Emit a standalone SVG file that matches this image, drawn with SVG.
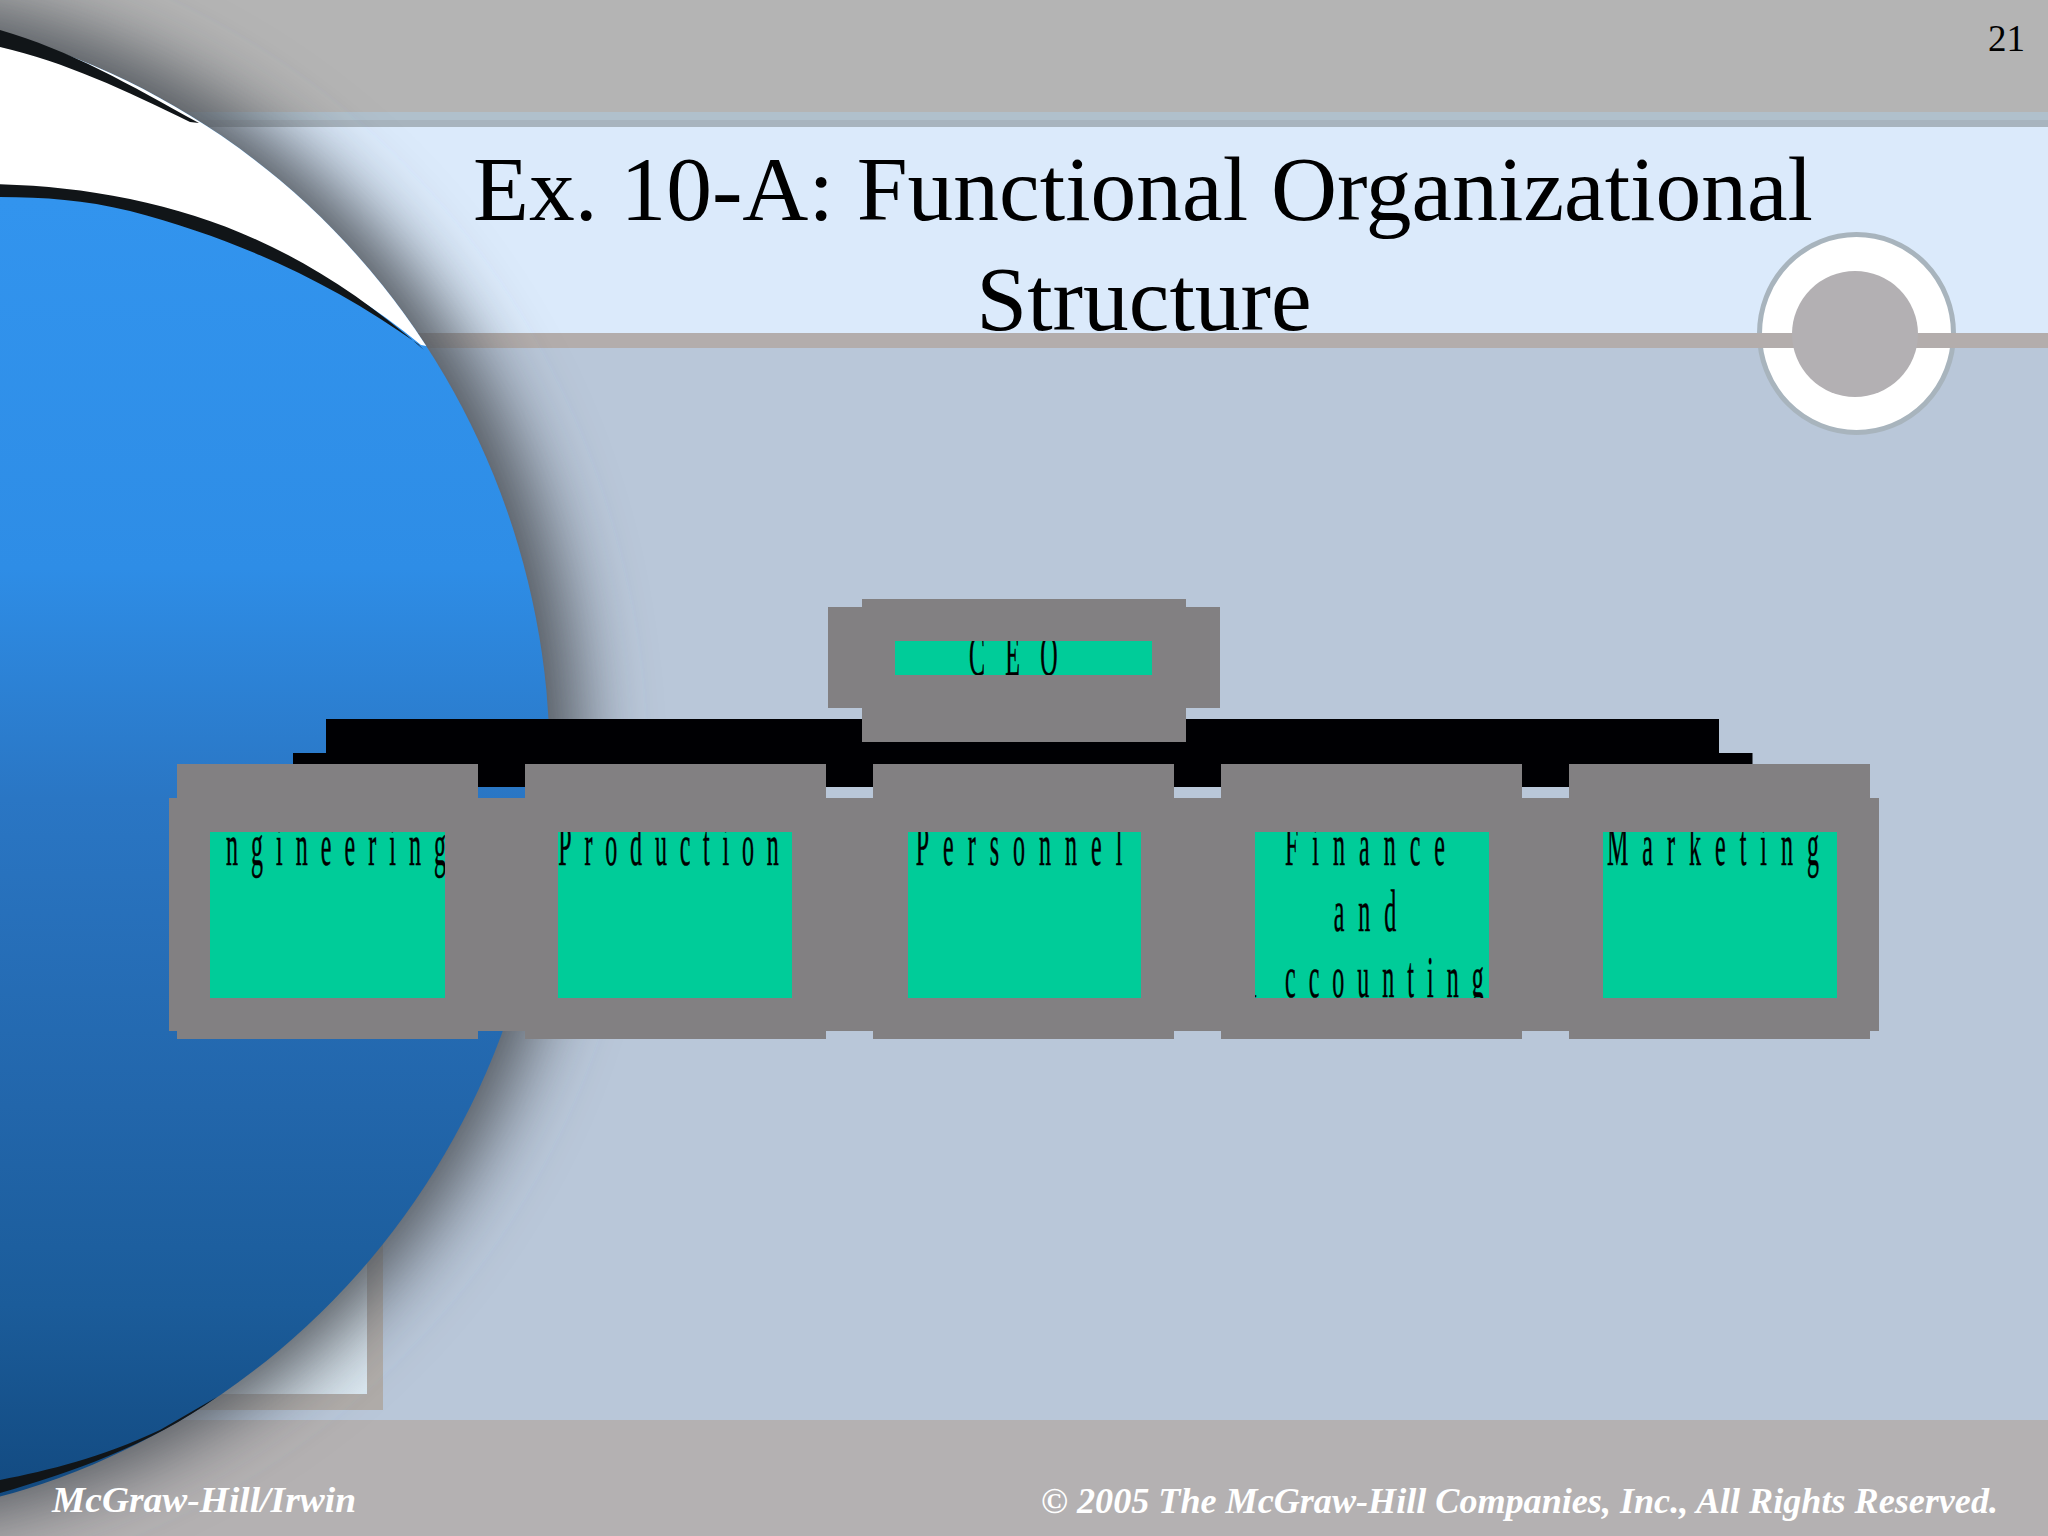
<svg xmlns="http://www.w3.org/2000/svg" width="2048" height="1536" viewBox="0 0 2048 1536">
<style>
.box{fill:#828082}
.green{fill:#00cc99}
.bus{fill:#000003}
.lbl{font-family:"Liberation Serif","Times New Roman",serif;font-size:60px;fill:#000;stroke:#000;stroke-width:.5px;text-anchor:middle}
.title{font-family:"Liberation Serif","Times New Roman",serif;font-size:91.500px;fill:#000;text-anchor:middle}
.foot{font-family:"Liberation Serif","Times New Roman",serif;font-size:35px;font-style:italic;font-weight:bold;fill:#fff}
</style>
<defs>
<linearGradient id="blue" x1="0" y1="0" x2="0" y2="1536" gradientUnits="userSpaceOnUse">
<stop offset="0.13" stop-color="#3294ee"/><stop offset="0.37" stop-color="#2e8de6"/><stop offset="0.52" stop-color="#2a76c4"/><stop offset="0.72" stop-color="#2266ab"/><stop offset="0.85" stop-color="#1b5c9a"/><stop offset="0.98" stop-color="#12497f"/>
</linearGradient>
<linearGradient id="panel" x1="0" y1="0" x2="1" y2="1"><stop offset="0.6" stop-color="#c5ccd4"/><stop offset="1" stop-color="#dceaf3"/></linearGradient>
<filter id="blur" x="-30%" y="-30%" width="160%" height="160%"><feGaussianBlur stdDeviation="36"/></filter>
<clipPath id="sph"><ellipse cx="-190" cy="765" rx="740" ry="757"/></clipPath>
<clipPath id="cCeo"><rect x="895" y="641" width="257" height="34"/></clipPath>
<clipPath id="c1"><rect x="210" y="832" width="235" height="166"/></clipPath>
<clipPath id="c2"><rect x="558" y="832" width="234" height="166"/></clipPath>
<clipPath id="c3"><rect x="908" y="832" width="233" height="166"/></clipPath>
<clipPath id="c4"><rect x="1255" y="832" width="234" height="166"/></clipPath>
<clipPath id="c5"><rect x="1603" y="832" width="234" height="166"/></clipPath>
</defs>

<g id="background">
<rect width="2048" height="1536" fill="#b9c7d9"/>
<rect y="0" width="2048" height="112" fill="#b4b4b4"/>
<rect y="112" width="2048" height="8" fill="#b0c0cc"/>
<rect y="120" width="2048" height="7" fill="#a8b4be"/>
<rect y="127" width="2048" height="206" fill="#dbeafb"/>
<rect x="100" y="1100" width="275" height="302" fill="url(#panel)" stroke="#b0aca9" stroke-width="16"/>
<rect y="1420" width="2048" height="116" fill="#b4b1b2"/>
<ellipse cx="1856.500" cy="333.500" rx="97" ry="99" fill="#fff" stroke="#a8b4bd" stroke-width="5"/>
<rect y="333" width="2048" height="15" fill="#b3adac"/>
<circle cx="1855" cy="334" r="63" fill="#b3b0b3"/>
</g>

<g id="sphere-art">
<ellipse cx="-165" cy="760" rx="745" ry="768" fill="#50555c" filter="url(#blur)"/>
<ellipse cx="-190" cy="765" rx="740" ry="757" fill="url(#blue)"/>
<g clip-path="url(#sph)">
<path d="M-10 0H500V360L421 345C330 270 230 225 120 200C70 190 30 187 -10 187Z" fill="#fff"/>
<path d="M-10 184C40 185 80 189 130 199C240 222 330 268 424 350L418 344C330 282 240 240 130 211C80 199 40 197 -10 197Z" fill="#111518"/>
</g>
<path d="M0 30C70 50 130 85 199 123L190 122C125 90 65 62 0 47Z" fill="#111518"/>
<path d="M0 1493C70 1473 150 1445 217 1397L160 1430C100 1458 50 1470 0 1480Z" fill="#111518"/>
</g>

<g id="connectors">
<rect class="bus" x="326" y="719" width="1393" height="34"/>
<rect class="bus" x="293" y="753" width="1459.500" height="12"/>
<rect class="bus" x="478" y="764" width="47" height="23"/>
<rect class="bus" x="826" y="764" width="47" height="23"/>
<rect class="bus" x="1174" y="764" width="47" height="23"/>
<rect class="bus" x="1522" y="764" width="47" height="23"/>
</g>

<g id="node-engineering">
<rect class="box" x="177" y="764" width="301" height="275"/>
<rect class="box" x="169" y="798" width="356" height="233"/>
<rect class="green" x="210" y="832" width="235" height="166"/>
<g clip-path="url(#c1)"><text class="lbl" transform="translate(226 865) scale(.4 1)" style="letter-spacing:32.600px;text-anchor:start"><tspan x="-85">E</tspan><tspan x="0">ngineering</tspan></text></g>
</g>
<g id="node-production">
<rect class="box" x="525" y="764" width="301" height="275"/>
<rect class="box" x="517" y="798" width="356" height="233"/>
<rect class="green" x="558" y="832" width="234" height="166"/>
<g clip-path="url(#c2)"><text class="lbl" transform="translate(675 865) scale(.4 1)" style="letter-spacing:32px">Production</text></g>
</g>
<g id="node-personnel">
<rect class="box" x="873" y="764" width="301" height="275"/>
<rect class="box" x="865" y="798" width="356" height="233"/>
<rect class="green" x="908" y="832" width="233" height="166"/>
<g clip-path="url(#c3)"><text class="lbl" transform="translate(1026 865) scale(.4 1)" style="letter-spacing:35px">Personnel</text></g>
</g>
<g id="node-finance">
<rect class="box" x="1221" y="764" width="301" height="275"/>
<rect class="box" x="1213" y="798" width="356" height="233"/>
<rect class="green" x="1255" y="832" width="234" height="166"/>
<g clip-path="url(#c4)">
<text class="lbl" transform="translate(1372 865) scale(.4 1)" style="letter-spacing:35px">Finance</text>
<text class="lbl" transform="translate(1372 931) scale(.4 1)" style="letter-spacing:35px">and</text>
<text class="lbl" transform="translate(1285 997) scale(.4 1)" style="letter-spacing:32.500px;text-anchor:start"><tspan x="-115">A</tspan><tspan x="0">ccounting</tspan></text>
</g>
</g>
<g id="node-marketing">
<rect class="box" x="1569" y="764" width="301" height="275"/>
<rect class="box" x="1561" y="798" width="318" height="233"/>
<rect class="green" x="1603" y="832" width="234" height="166"/>
<g clip-path="url(#c5)"><text class="lbl" transform="translate(1720 865) scale(.4 1)" style="letter-spacing:35px">Marketing</text></g>
</g>
<g id="node-ceo">
<rect class="box" x="828" y="607" width="392" height="101"/>
<rect class="box" x="862" y="599" width="324" height="143"/>
<rect class="green" x="895" y="641" width="257" height="34"/>
<g clip-path="url(#cCeo)"><text class="lbl" transform="translate(1023.500 675) scale(.4 1)" style="letter-spacing:51px">CEO</text></g>
</g>

<g id="texts">
<text class="title" x="1143" y="220">Ex. 10-A: Functional Organizational</text>
<text class="title" x="1144" y="330">Structure</text>
<text x="2025" y="51" font-family="Liberation Serif, serif" font-size="37" text-anchor="end">21</text>
<text class="foot" x="52" y="1512" textLength="304" lengthAdjust="spacingAndGlyphs">McGraw-Hill/Irwin</text>
<text class="foot" x="1041" y="1513" textLength="957" lengthAdjust="spacingAndGlyphs">© 2005 The McGraw-Hill Companies, Inc., All Rights Reserved.</text>
</g>
</svg>
